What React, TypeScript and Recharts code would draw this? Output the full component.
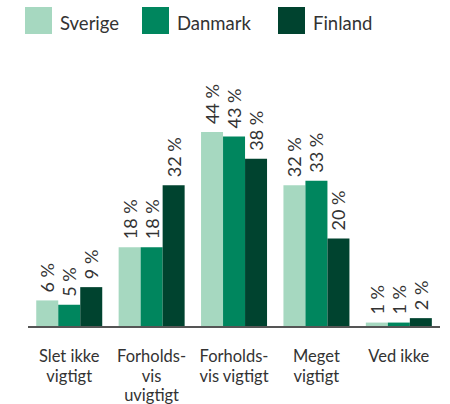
import React from "react";
import { BarChart, Bar, XAxis, YAxis, LabelList } from "recharts";

const categories = [
  "Slet ikke\nvigtigt",
  "Forholds-\nvis\nuvigtigt",
  "Forholds-\nvis vigtigt",
  "Meget\nvigtigt",
  "Ved ikke",
];
const sverige = [6, 18, 44, 32, 1];
const danmark = [5, 18, 43, 33, 1];
const finland = [9, 32, 38, 20, 2];

const seriesNames = ["Sverige", "Danmark", "Finland"];
const seriesColors = ["#a6d8c0", "#00865e", "#00432f"];

const data = categories.map((c, i) => ({
  name: c,
  Sverige: sverige[i],
  Danmark: danmark[i],
  Finland: finland[i],
}));

const FONT = "Lato, 'Noto Sans', sans-serif";
const TEXT = "#333333";

const BarLabel = (props: any) => {
  const { x, y, width, value } = props;
  const cx = x + width / 2;
  const cy = y - 8;
  return (
    <text
      x={cx}
      y={cy}
      transform={`rotate(-90 ${cx} ${cy})`}
      textAnchor="start"
      dominantBaseline="central"
      fontSize={18}
      fontFamily={FONT}
      fill={TEXT}
    >
      {`${value} %`}
    </text>
  );
};

const Tick = (props: any) => {
  const { x, y, payload } = props;
  const lines = String(payload.value).split("\n");
  return (
    <text
      x={x}
      y={y + 27}
      textAnchor="middle"
      fontSize={16.5}
      fontFamily={FONT}
      fill={TEXT}
    >
      {lines.map((l, i) => (
        <tspan key={i} x={x} dy={i === 0 ? 0 : 19.5}>
          {l}
        </tspan>
      ))}
    </text>
  );
};

export default function App() {
  return (
    <div style={{ position: "absolute", left: 0, top: 0, width: 450, height: 404, background: "#fff" }}>
      <div
        style={{
          position: "absolute",
          left: 0,
          top: 0,
          fontFamily: FONT,
          fontSize: 18.5,
          color: TEXT,
        }}
      >
        {seriesNames.map((n, i) => (
          <div
            key={n}
            style={{
              position: "absolute",
              left: [25, 142, 278][i],
              top: 7,
              display: "flex",
              alignItems: "center",
              whiteSpace: "nowrap",
            }}
          >
            <div style={{ width: 27, height: 27, background: seriesColors[i], marginRight: 8 }} />
            <span style={{ position: "relative", top: 2 }}>{n}</span>
          </div>
        ))}
      </div>
      <BarChart
        width={450}
        height={404}
        data={data}
        margin={{ top: 105.5, right: 10, left: 28, bottom: 0 }}
        barCategoryGap="10%"
        barGap={0}
      >
        <XAxis
          dataKey="name"
          height={77}
          tickLine={false}
          axisLine={{ stroke: "#555555", strokeWidth: 2 }}
          tick={<Tick />}
          interval={0}
        />
        <YAxis hide domain={[0, 50]} />
        {seriesNames.map((n, i) => (
          <Bar key={n} dataKey={n} fill={seriesColors[i]} isAnimationActive={false}>
            <LabelList dataKey={n} content={<BarLabel />} />
          </Bar>
        ))}
      </BarChart>
    </div>
  );
}
